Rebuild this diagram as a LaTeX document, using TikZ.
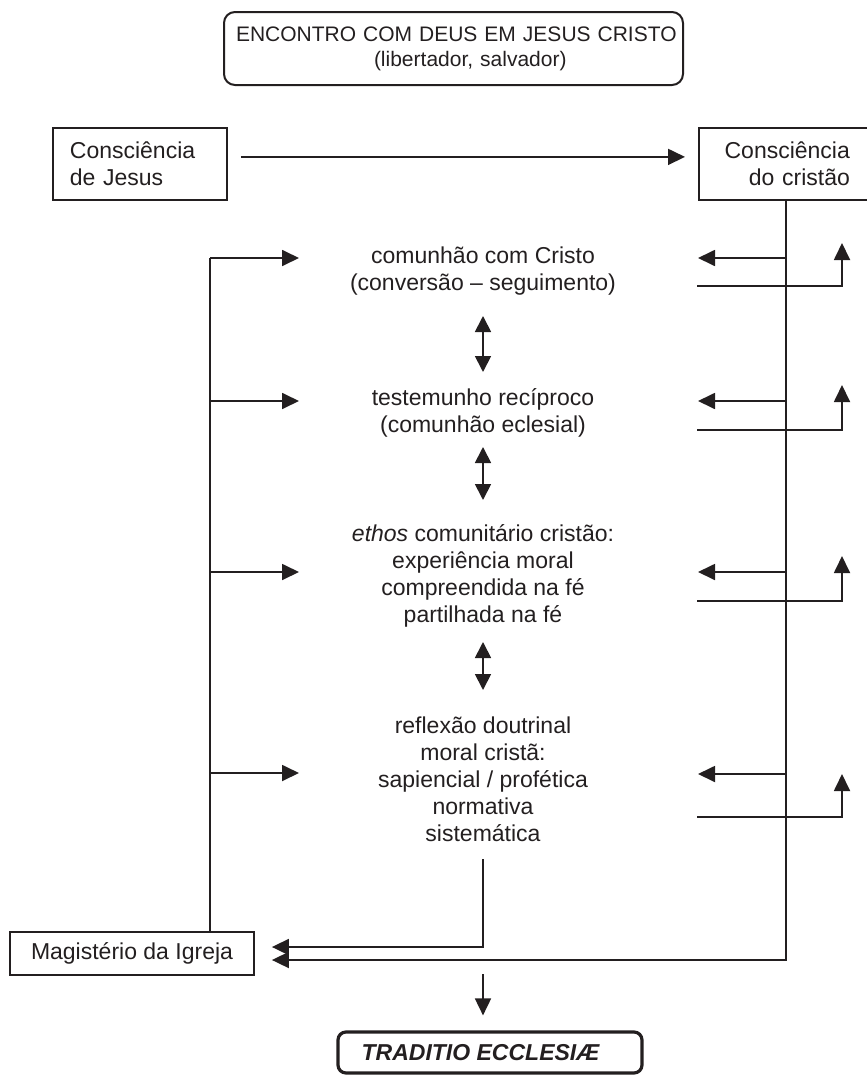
\documentclass[tikz,border=0pt]{standalone}
\usepackage{fontspec}
\setmainfont{Liberation Sans}
\usetikzlibrary{arrows.meta,calc}
\definecolor{ink}{RGB}{35,31,32}
\newcommand\bodyfont{\fontsize{23}{27}\selectfont}
\newcommand\topfont{\fontsize{21}{25}\selectfont}
\begin{document}
\begin{tikzpicture}[x=1pt,y=-1pt,
  ln/.style={line width=1.8pt, draw=ink},
  arr/.style={ln, -{Triangle[length=17pt,width=16pt]}},
  darr/.style={ln, {Triangle[length=16pt,width=16pt]}-{Triangle[length=16pt,width=16pt]}},
  sqbox/.style={draw=ink, line width=1.8pt, text=ink, font=\bodyfont},
  txt/.style={align=center, text=ink, font=\bodyfont},
]
\useasboundingbox (0,0) rectangle (867,1076);

% boxes
\node[draw=ink, line width=2pt, rounded corners=11pt, text=ink, font=\topfont,
      minimum width=459pt, minimum height=73pt, text width=445pt, inner xsep=7pt, align=left]
  (top) at (453.5,48.5) {\hspace*{5pt}\mbox{ENCONTRO COM DEUS EM JESUS CRISTO}\\\hspace*{143pt}\mbox{(libertador, salvador)}};
\node[sqbox, anchor=north west, text width=140pt, align=left, inner xsep=17pt, minimum height=72pt]
  (cj) at (52,127) {Consciência\\de Jesus};
\node[sqbox, anchor=north west, text width=128pt, align=right, inner xsep=23pt, minimum height=72pt]
  (cc) at (698,127) {Consciência\\do cristão};
\node[sqbox, minimum width=244pt, minimum height=43pt] (mg) at (132,953.5) {Magistério da Igreja};
\node[draw=ink, line width=3.2pt, rounded corners=8pt, text=ink, font=\bodyfont\bfseries\itshape,
      minimum width=304pt, minimum height=41pt] (tr) at (490,1052.5) {TRADITIO ECCLESIÆ\hspace*{19pt}};

% central texts
\node[txt] (c1) at (483,271.5) {comunhão com Cristo\\(conversão – seguimento)};
\node[txt] (c2) at (483,413) {testemunho recíproco\\(comunhão eclesial)};
\node[txt] (c3) at (483,576) {\textit{ethos} comunitário cristão:\\experiência moral\\compreendida na fé\\partilhada na fé};
\node[txt] (c4) at (483,779) {reflexão doutrinal\\moral cristã:\\sapiencial / profética\\normativa\\sistemática};

% top arrow
\draw[arr] ($(cj.east)+(13,-7)$) -- ($(cc.west)+(-13,-7)$);

% double arrows
\draw[darr] ($(c1.center)+(0,44.5)$) -- ($(c2.center)+(0,-41)$);
\draw[darr] ($(c2.center)+(0,34)$) -- ($(c3.center)+(0,-76)$);
\draw[darr] ($(c3.center)+(0,66)$) -- ($(c4.center)+(0,-89)$);

% left trunk
\coordinate (l1) at (210,258);
\coordinate (l2) at (210,401);
\coordinate (l3) at (210,572);
\coordinate (l4) at (210,773);
\coordinate (a1) at (299,258);
\coordinate (a2) at (299,401);
\coordinate (a3) at (299,572);
\coordinate (a4) at (299,773);
\draw[ln] (l1) -- (l1 |- mg.north);
\draw[arr] (l1) -- (a1);
\draw[arr] (l2) -- (a2);
\draw[arr] (l3) -- (a3);
\draw[arr] (l4) -- (a4);

% right trunk
\coordinate (rl1) at (698,258);
\coordinate (rl2) at (698,401);
\coordinate (rl3) at (698,572);
\coordinate (rl4) at (698,774);
\draw[arr] (cc.south |- rl1) -- (rl1);
\draw[arr] (cc.south |- rl2) -- (rl2);
\draw[arr] (cc.south |- rl3) -- (rl3);
\draw[arr] (cc.south |- rl4) -- (rl4);
\coordinate (rs1) at (697,286);
\coordinate (rs2) at (697,430);
\coordinate (rs3) at (697,601);
\coordinate (rs4) at (697,817);
\coordinate (ru1) at (842,243);
\coordinate (ru2) at (842,385);
\coordinate (ru3) at (842,556);
\coordinate (ru4) at (842,774);
\draw[arr] (rs1) -| (ru1);
\draw[arr] (rs2) -| (ru2);
\draw[arr] (rs3) -| (ru3);
\draw[arr] (rs4) -| (ru4);

% to Magisterio
\draw[arr] (cc.south) |- ($(mg.east)+(17,6.5)$);
\draw[arr] ($(c4.center)+(0,80)$) |- ($(mg.east)+(17,-6.5)$);

% down to Traditio
\draw[arr] ($(c4.center)+(0,195)$) -- ($(tr.north -| c4.center)+(0,-15)$);
\end{tikzpicture}
\end{document}
